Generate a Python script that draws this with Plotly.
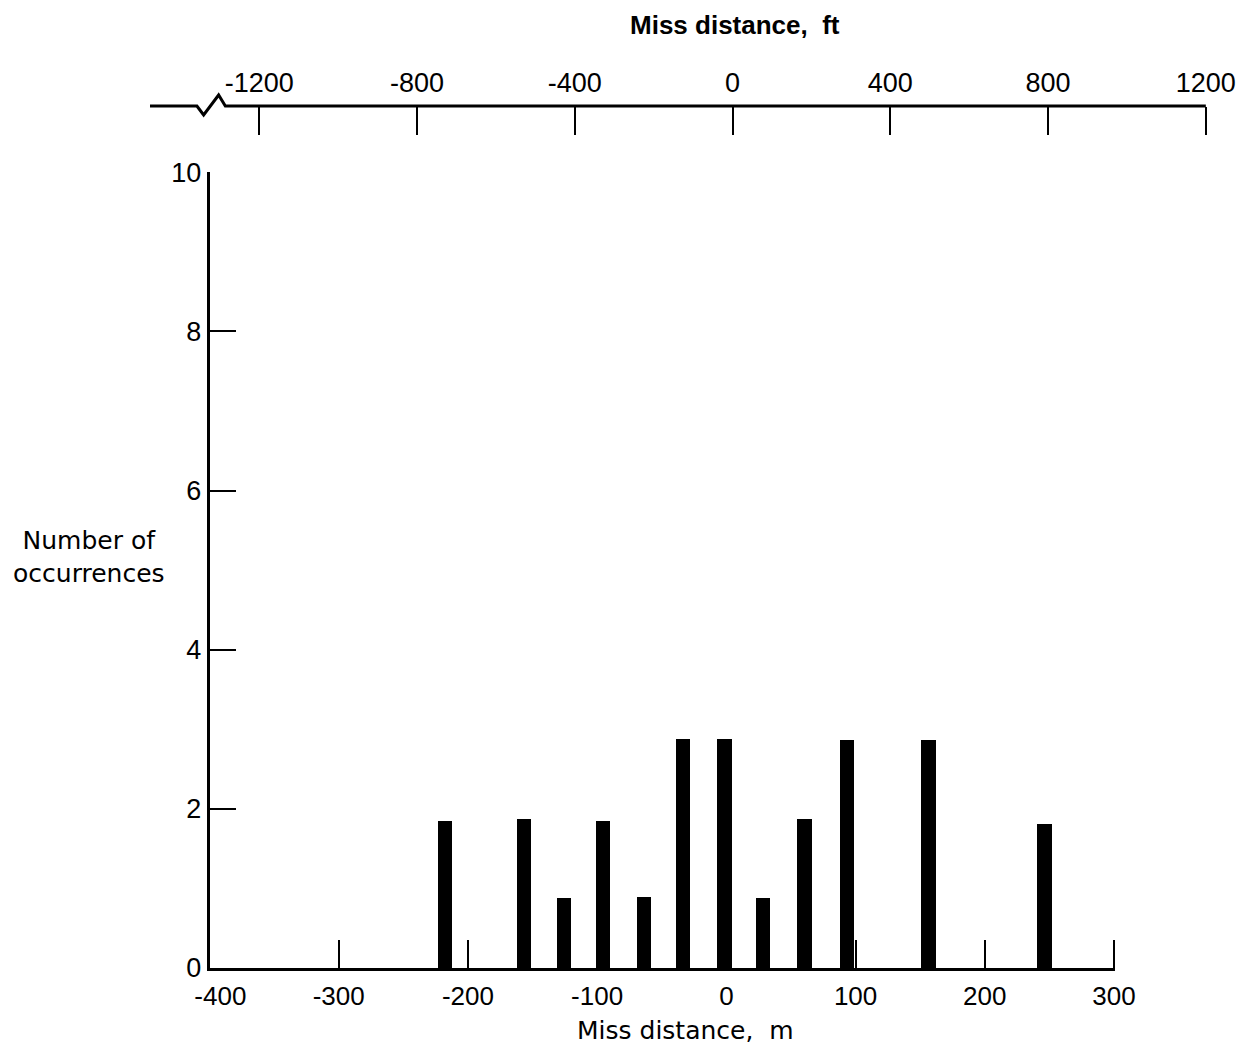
import plotly.graph_objects as go

# ---- data ----
miss_m = [-218, -157, -126, -96, -64, -34, -2, 28, 60, 93, 156, 246]
occurrences = [1.84, 1.87, 0.88, 1.85, 0.89, 2.87, 2.87, 0.88, 1.87, 2.86, 2.86, 1.80]

m_ticks = [-400, -300, -200, -100, 0, 100, 200, 300]
m_ticktext = ["\u00a0\u00a0\u00a0-400", "-300", "-200", "-100", "0", "100", "200", "300"]
ft_ticks = [-1200, -800, -400, 0, 400, 800, 1200]
ft_ticktext = ["-1200", "-800", "-400", "0", "400", "800", "1200"]
y_ticks = [0, 2, 4, 6, 8, 10]
y_ticktext = ["0", "2", "4", "6", "8", "10"]

BAR_WIDTH_M = 11.2
M_RANGE = [-400, 300.8]
FT_RANGE = [-1477, 1203]
FT_LINE_END = 1200
BREAK_FT = [-1358, -1341, -1303, -1286]

W, H = 1250, 1051
L, R, T, B = 150, 43, 106, 83
PW, PH = W - L - R, H - T - B
PX_PER_M = (1114 - 209.5) / 700.0

def px_x(p):
    return (p - L) / PW

def px_y(p):
    return (H - B - p) / PH

tick_font = dict(family="Liberation Sans, Arial, sans-serif", size=27, color="black")
bottom_tick_font = dict(family="Liberation Sans, Arial, sans-serif", size=26, color="black")
title_font = dict(family="DejaVu Sans, Verdana, sans-serif", size=25, color="black")

fig = go.Figure()
fig.add_trace(go.Bar(x=miss_m, y=occurrences, width=BAR_WIDTH_M,
                     marker=dict(color="black", line=dict(width=0)),
                     showlegend=False, hoverinfo="skip"))
# dummy trace to anchor the top (ft) axis
fig.add_trace(go.Scatter(x=ft_ticks, y=[None] * len(ft_ticks), xaxis="x2", yaxis="y",
                         mode="markers", showlegend=False, hoverinfo="skip"))

x_right_px = 209.5 + (M_RANGE[1] - M_RANGE[0]) * PX_PER_M

fig.update_layout(
    width=W, height=H,
    margin=dict(l=L, r=R, t=T, b=B, pad=0),
    paper_bgcolor="white", plot_bgcolor="rgba(0,0,0,0)",
    bargap=0,
    xaxis=dict(domain=[px_x(209.5), px_x(x_right_px)], range=M_RANGE,
               showline=True, linecolor="black", linewidth=3,
               ticks="inside", ticklen=28, tickwidth=2, tickcolor="black",
               tickvals=m_ticks, ticktext=m_ticktext, tickfont=bottom_tick_font,
               ticklabelstandoff=3,
               showgrid=False, zeroline=False, fixedrange=True),
    yaxis=dict(domain=[0, px_y(172.3)], range=[0, 10],
               showline=True, linecolor="black", linewidth=2.5,
               ticks="inside", ticklen=27, tickwidth=2, tickcolor="black",
               tickvals=y_ticks, ticktext=y_ticktext, tickfont=tick_font,
               showgrid=False, zeroline=False, fixedrange=True),
    xaxis2=dict(domain=[0, 1], range=FT_RANGE, anchor="free", position=1, side="top",
                showline=False,
                ticks="inside", ticklen=28, tickwidth=2, tickcolor="black",
                tickvals=ft_ticks, ticktext=ft_ticktext, tickfont=tick_font,
                ticklabelstandoff=9,
                showgrid=False, zeroline=False, fixedrange=True),
)

# top axis line with break symbol
path = (f"M {FT_RANGE[0]},1 L {BREAK_FT[0]},1 L {BREAK_FT[1]},{1 - 9 / PH} "
        f"L {BREAK_FT[2]},{1 + 11 / PH} L {BREAK_FT[3]},1 L {FT_LINE_END},1")
fig.add_shape(type="path", path=path, xref="x2", yref="paper",
              line=dict(color="black", width=3))

fig.add_annotation(text="Miss distance,  m", x=px_x(685), y=px_y(1030), xref="paper", yref="paper",
                   showarrow=False, font=title_font, xanchor="center", yanchor="middle")
fig.add_annotation(text="<b>Miss distance,  ft</b>", x=px_x(735), y=px_y(25), xref="paper", yref="paper",
                   showarrow=False, font=dict(family="Liberation Sans, Arial, sans-serif", size=26, color="black"),
                   xanchor="center", yanchor="middle")
fig.add_annotation(text="Number of<br>occurrences", x=px_x(89), y=px_y(557), xref="paper", yref="paper",
                   showarrow=False, font=title_font, xanchor="center", yanchor="middle", align="center")

fig.write_html("out.html")
